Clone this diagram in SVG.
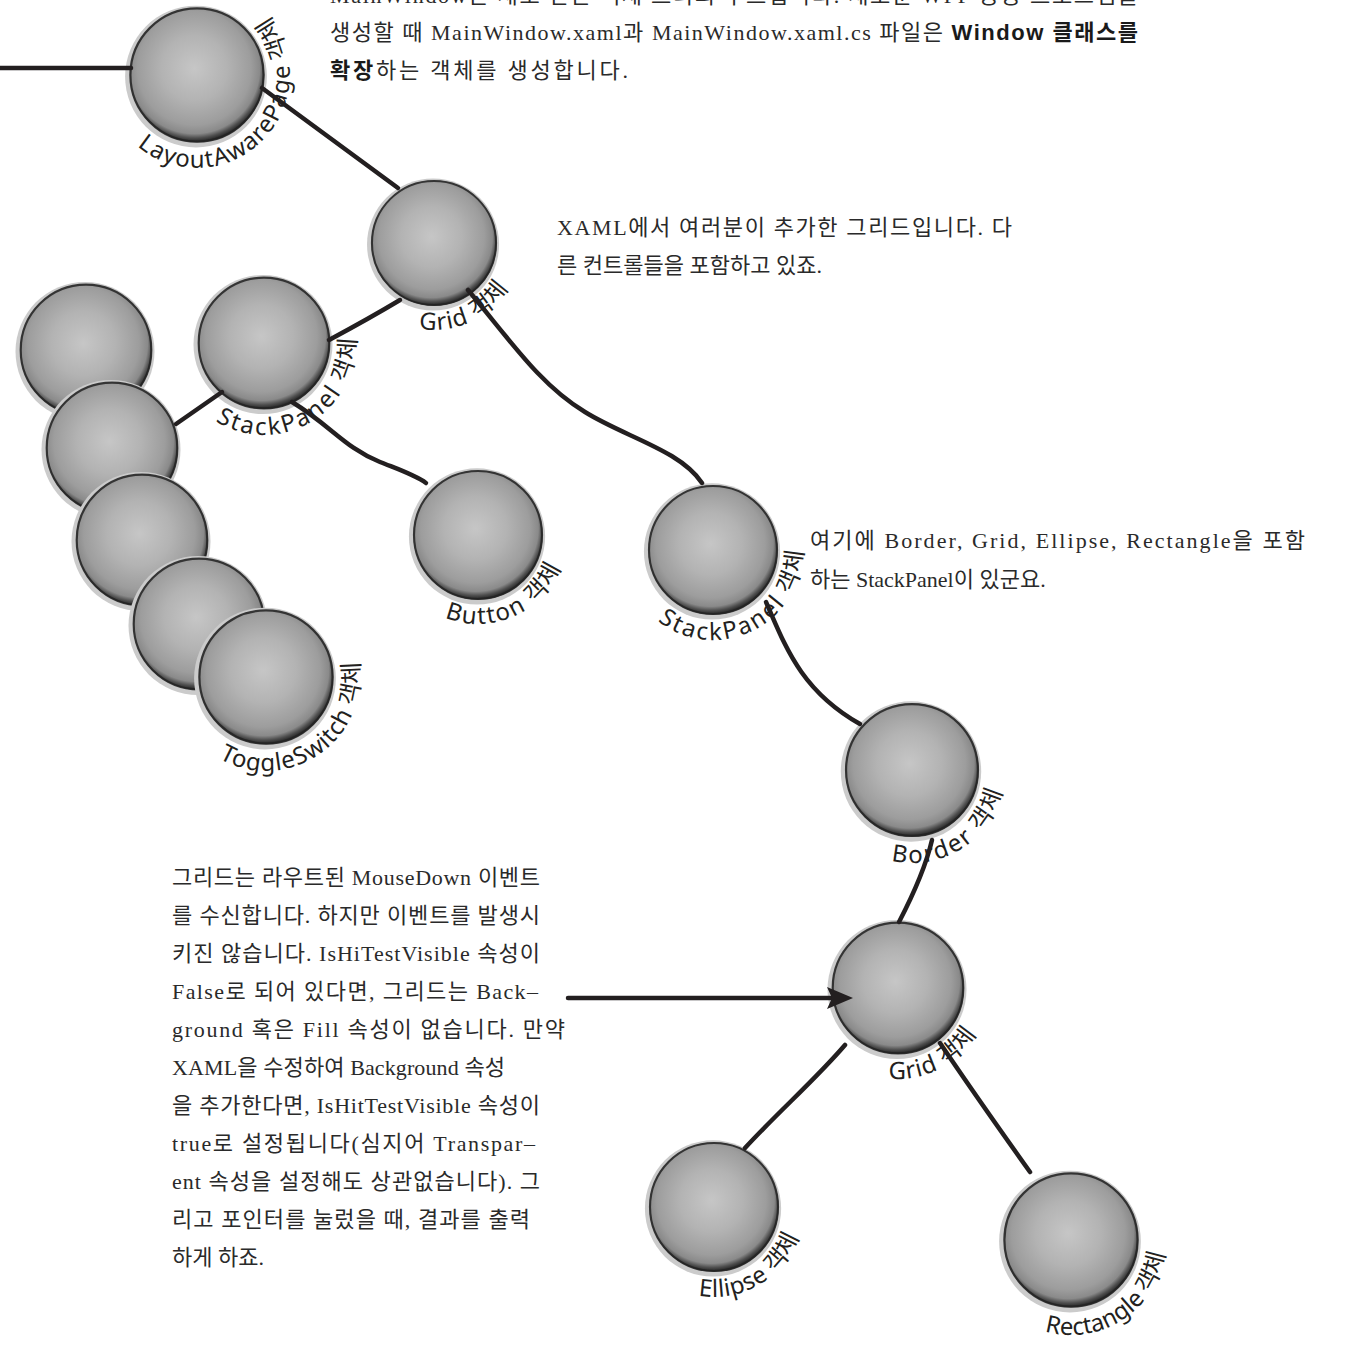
<svg xmlns="http://www.w3.org/2000/svg" xmlns:xlink="http://www.w3.org/1999/xlink" width="1345" height="1367" viewBox="0 0 1345 1367">
  <style>
    .wire { fill: none; stroke: #231f20; stroke-width: 4.5; stroke-linecap: round; stroke-linejoin: round; }
    .lbl { font-family: "Noto Sans", "Noto Sans CJK KR", sans-serif; font-size: 24px; fill: #231f20; }
    .body { font-family: "Liberation Serif", "Noto Sans CJK KR", serif; font-size: 22px; fill: #2a2a2a; }
    .bold { font-family: "Liberation Sans", "Noto Sans CJK KR", sans-serif; font-weight: bold; fill: #1a1a1a; }
  </style>
  <defs>
    <radialGradient id="ballFill" cx="0.48" cy="0.45" r="0.54">
      <stop offset="0" stop-color="#c6c6c6"/>
      <stop offset="0.45" stop-color="#b3b3b3"/>
      <stop offset="0.78" stop-color="#9d9d9d"/>
      <stop offset="0.9" stop-color="#8a8a8a"/>
      <stop offset="0.96" stop-color="#4e4e4e"/>
      <stop offset="1" stop-color="#2e2e2e"/>
    </radialGradient>
    <!-- shaded sphere used by every node -->
    <g id="ball">
      <circle cx="-1" cy="1.5" r="69.5" fill="#cbcbcb"/>
      <circle r="66" fill="url(#ballFill)"/>
      <circle r="65.3" fill="none" stroke="#222" stroke-width="2.2" stroke-opacity="0.85"/>
    </g>
    <marker id="head" markerUnits="userSpaceOnUse" markerWidth="28" markerHeight="22" refX="5" refY="11" orient="auto">
      <path d="M0,0 L26,11 L0,22 L5,11 Z" fill="#231f20"/>
    </marker>
    <!-- label arcs, running round the lower right of each sphere -->
    <path id="arcLayout" d="M137.2,146.2 A93,93 0 0 0 266.1,12.8"/>
    <path id="arcGrid1" d="M418.9,328.7 A87,87 0 0 0 509.3,286.5"/>
    <path id="arcStack1" d="M215.3,421.0 A92,92 0 0 0 355.1,330.2"/>
    <path id="arcButton" d="M444.7,617.5 A89,89 0 0 0 563.6,559.5"/>
    <path id="arcToggle" d="M219.0,758.4 A94,94 0 0 0 357.2,654.3"/>
    <path id="arcStack2" d="M657.6,620.9 A90,90 0 0 0 802.8,543.7"/>
    <path id="arcBorder" d="M891.1,860.6 A93,93 0 0 0 1004.1,782.9"/>
    <path id="arcGrid2" d="M888.5,1078.5 A91,91 0 0 0 978.3,1030.7"/>
    <path id="arcEllipse" d="M698.4,1295.6 A90,90 0 0 0 800.5,1231.8"/>
    <path id="arcRect" d="M1044.8,1331.3 A95,95 0 0 0 1165.5,1249.9"/>
  </defs>

  <rect width="1345" height="1367" fill="#ffffff"/>

  <!-- object tree nodes -->
  <g id="node-layoutawarepage">
    <use xlink:href="#ball" transform="translate(197,75) scale(1.02)"/>
    <text class="lbl"><textPath xlink:href="#arcLayout" textLength="274" lengthAdjust="spacing">LayoutAwarePage 객체</textPath></text>
  </g>
  <g id="node-grid-top">
    <use xlink:href="#ball" transform="translate(434,243) scale(0.95)"/>
    <text class="lbl"><textPath xlink:href="#arcGrid1" textLength="104" lengthAdjust="spacing">Grid 객체</textPath></text>
  </g>
  <g id="node-stack-hidden-1">
    <use xlink:href="#ball" transform="translate(86,350)"/>
  </g>
  <g id="node-stack-hidden-2">
    <use xlink:href="#ball" transform="translate(112,448)"/>
  </g>
  <g id="node-stack-hidden-3">
    <use xlink:href="#ball" transform="translate(142,540)"/>
  </g>
  <g id="node-stack-hidden-4">
    <use xlink:href="#ball" transform="translate(199,624)"/>
  </g>
  <g id="node-toggleswitch">
    <use xlink:href="#ball" transform="translate(266,677) scale(1.02)"/>
    <text class="lbl"><textPath xlink:href="#arcToggle" textLength="212" lengthAdjust="spacing">ToggleSwitch 객체</textPath></text>
  </g>
  <g id="node-stackpanel-left">
    <use xlink:href="#ball" transform="translate(264,343)"/>
    <text class="lbl"><textPath xlink:href="#arcStack1" textLength="200" lengthAdjust="spacing">StackPanel 객체</textPath></text>
  </g>
  <g id="node-button">
    <use xlink:href="#ball" transform="translate(478,535) scale(0.98)"/>
    <text class="lbl"><textPath xlink:href="#arcButton" textLength="140" lengthAdjust="spacing">Button 객체</textPath></text>
  </g>
  <g id="node-stackpanel-right">
    <use xlink:href="#ball" transform="translate(713,550) scale(0.98)"/>
    <text class="lbl"><textPath xlink:href="#arcStack2" textLength="200" lengthAdjust="spacing">StackPanel 객체</textPath></text>
  </g>
  <g id="node-border">
    <use xlink:href="#ball" transform="translate(912,770) scale(1.01)"/>
    <text class="lbl"><textPath xlink:href="#arcBorder" textLength="145" lengthAdjust="spacing">Border 객체</textPath></text>
  </g>
  <g id="node-grid-bottom">
    <use xlink:href="#ball" transform="translate(898,988)"/>
    <text class="lbl"><textPath xlink:href="#arcGrid2" textLength="104" lengthAdjust="spacing">Grid 객체</textPath></text>
  </g>
  <g id="node-ellipse">
    <use xlink:href="#ball" transform="translate(714,1207) scale(0.98)"/>
    <text class="lbl"><textPath xlink:href="#arcEllipse" textLength="126" lengthAdjust="spacing">Ellipse 객체</textPath></text>
  </g>
  <g id="node-rectangle">
    <use xlink:href="#ball" transform="translate(1071,1240) scale(1.02)"/>
    <text class="lbl"><textPath xlink:href="#arcRect" textLength="162" lengthAdjust="spacing">Rectangle 객체</textPath></text>
  </g>

  <!-- connectors, drawn over the spheres' halos and labels -->
  <g id="connectors">
    <path class="wire" d="M0,68 L131,68" stroke-width="5"/>
    <path class="wire" d="M262,88 L398,188"/>
    <path class="wire" d="M400,300 Q370,318 329,340"/>
    <path class="wire" d="M468,290 C510,340 540,385 585,412 C625,437 680,450 702,483"/>
    <path class="wire" d="M222,392 L176,424"/>
    <path class="wire" d="M292,402 C330,425 345,448 380,462 C400,470 415,475 426,483"/>
    <path class="wire" d="M766,602 C785,645 800,690 860,724"/>
    <path class="wire" d="M932,840 C925,870 912,897 899,922"/>
    <path class="wire" d="M845,1045 C815,1080 780,1110 745,1148"/>
    <path class="wire" d="M940,1043 C965,1080 1000,1130 1030,1172"/>
    <path class="wire" d="M568,998 L832,998" stroke-width="5" stroke-linecap="butt" marker-end="url(#head)"/>
  </g>

  <!-- notes -->
  <g id="note-window">
    <text class="body" x="330" y="3" textLength="808" lengthAdjust="spacing">MainWindow는 새로 만든 객체 트리의 루트입니다. 새로운 WPF 응용 프로그램을</text>
    <text class="body" x="330" y="40" textLength="808" lengthAdjust="spacing">생성할 때 MainWindow.xaml과 MainWindow.xaml.cs 파일은 <tspan class="bold">Window 클래스를</tspan></text>
    <text class="body" x="330" y="78" textLength="298" lengthAdjust="spacing"><tspan class="bold">확장</tspan>하는 객체를 생성합니다.</text>
  </g>
  <g id="note-grid">
    <text class="body" x="557" y="235" textLength="455" lengthAdjust="spacing">XAML에서 여러분이 추가한 그리드입니다. 다</text>
    <text class="body" x="557" y="273">른 컨트롤들을 포함하고 있죠.</text>
  </g>
  <g id="note-stackpanel">
    <text class="body" x="810" y="548" textLength="495" lengthAdjust="spacing">여기에 Border, Grid, Ellipse, Rectangle을 포함</text>
    <text class="body" x="810" y="587">하는 StackPanel이 있군요.</text>
  </g>
  <g id="note-hittest">
    <text class="body" x="172" y="885" textLength="368" lengthAdjust="spacing">그리드는 라우트된 MouseDown 이벤트</text>
    <text class="body" x="172" y="923" textLength="368" lengthAdjust="spacing">를 수신합니다. 하지만 이벤트를 발생시</text>
    <text class="body" x="172" y="961" textLength="368" lengthAdjust="spacing">키진 않습니다. IsHiTestVisible 속성이</text>
    <text class="body" x="172" y="999" textLength="366" lengthAdjust="spacing">False로 되어 있다면, 그리드는 Back–</text>
    <text class="body" x="172" y="1037" textLength="393" lengthAdjust="spacing">ground 혹은 Fill 속성이 없습니다. 만약</text>
    <text class="body" x="172" y="1075" textLength="333" lengthAdjust="spacing">XAML을 수정하여 Background 속성</text>
    <text class="body" x="172" y="1113" textLength="368" lengthAdjust="spacing">을 추가한다면, IsHitTestVisible 속성이</text>
    <text class="body" x="172" y="1151" textLength="363" lengthAdjust="spacing">true로 설정됩니다(심지어 Transpar–</text>
    <text class="body" x="172" y="1189" textLength="368" lengthAdjust="spacing">ent 속성을 설정해도 상관없습니다). 그</text>
    <text class="body" x="172" y="1227" textLength="358" lengthAdjust="spacing">리고 포인터를 눌렀을 때, 결과를 출력</text>
    <text class="body" x="172" y="1265">하게 하죠.</text>
  </g>
</svg>
